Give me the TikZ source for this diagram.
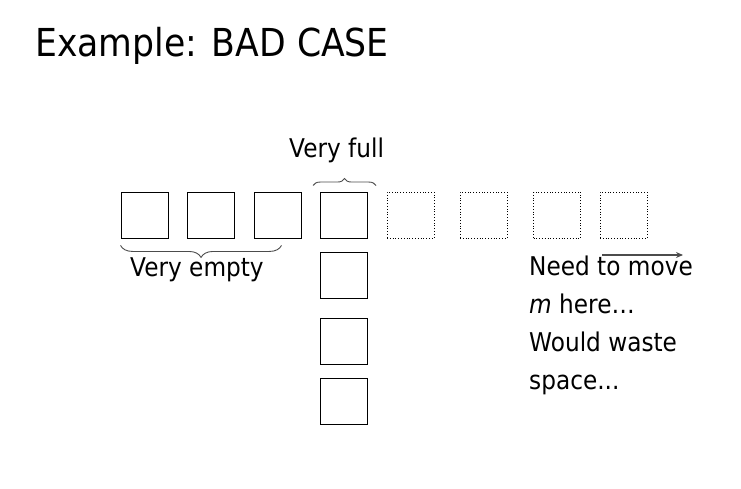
\documentclass[tikz,border=0pt]{standalone}
\usepackage{fontspec}
\setmainfont{DejaVu Sans}[FakeStretch=0.9]
\usetikzlibrary{decorations.pathreplacing,calc,arrows.meta}
\begin{document}
\begin{tikzpicture}[x=1pt,y=-1pt,
  cell/.style={draw=black,line width=0.9pt,minimum width=47pt,minimum height=46pt,inner sep=0pt},
  ghost/.style={draw=black,dotted,line width=0.8pt,minimum width=47pt,minimum height=46pt,inner sep=0pt},
  lbl/.style={anchor=base west,inner sep=0pt,font=\fontsize{25.8}{26}\selectfont},
  brc/.style={draw=black!70,line width=0.9pt,decorate},
]
\useasboundingbox (0,0) rectangle (741,489);
\node[anchor=base west,inner sep=0pt,font=\fontsize{38.5}{38}\selectfont] (title) at (35,57) {Example: BAD CASE};
% row
\node[cell] (b1) at (144.5,215) {};
\node[cell] (b2) at (211,215) {};
\node[cell] (b3) at (277.5,215) {};
\node[cell] (b4) at (344,215) {};
\node[ghost] (g1) at (410.5,215) {};
\node[ghost] (g2) at (483.5,215) {};
\node[ghost] (g3) at (557,215) {};
\node[ghost] (g4) at (623.5,215) {};
% column
\node[cell] (c1) at (344,275) {};
\node[cell] (c2) at (344,341.5) {};
\node[cell] (c3) at (344,401) {};
% braces
\draw[brc,decoration={brace,amplitude=7pt}] ($(b4.north west)+(-7,-6)$) -- ($(b4.north east)+(8,-6)$);
\draw[brc,decoration={brace,amplitude=12pt}] ($(b3.south)+(4,7)$) -- ($(b1.south west)+(0,7)$);
% labels
\node[lbl] (full) at (289,158) {Very full};
\node[lbl] (empty) at (130,276) {Very empty};
\node[lbl] (t1) at (529,275) {Need to move};
\node[lbl] (t2) at (529,313) {\itshape m\upshape\ here…};
\node[lbl] (t3) at (529,351) {Would waste};
\node[lbl] (t4) at (529,389) {space...};
% arrow
\coordinate (a1) at (602,255);
\coordinate (a2) at (683,255);
\draw[draw=black!70,line width=1.2pt,-{Stealth[length=7pt,width=6pt]}] (a1) -- (a2);
\end{tikzpicture}
\end{document}
